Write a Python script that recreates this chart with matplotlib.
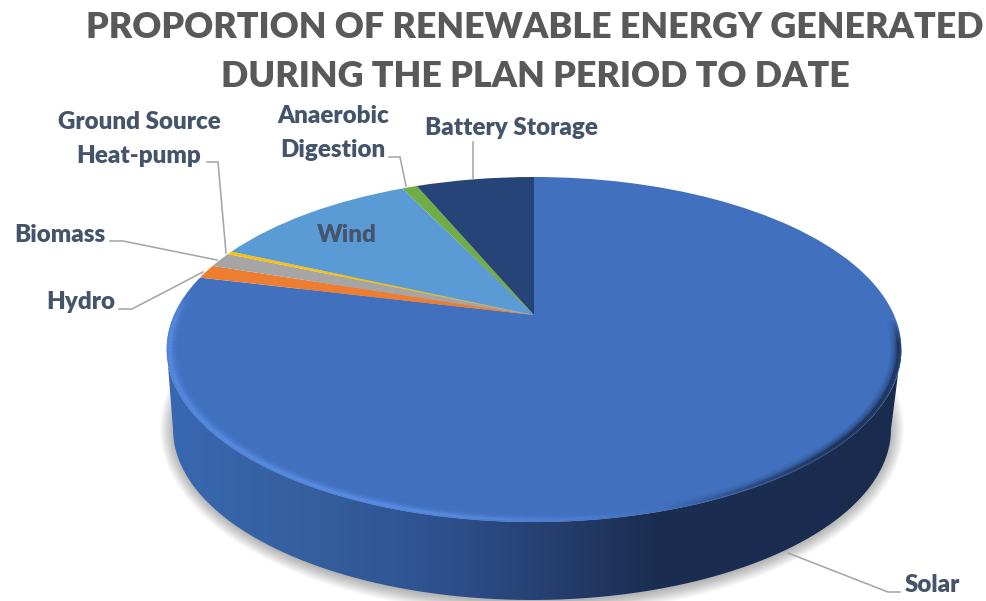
import numpy as np
import matplotlib
matplotlib.use("Agg")
import matplotlib.pyplot as plt
from matplotlib.transforms import Transform
from matplotlib.patches import Ellipse, PathPatch
from matplotlib.path import Path
from matplotlib.collections import LineCollection
from matplotlib.colors import LinearSegmentedColormap, to_rgb

categories = ["Solar", "Hydro", "Biomass", "Ground Source\nHeat-pump", "Wind", "Anaerobic\nDigestion", "Battery Storage"]
values = [78.8, 1.3, 1.4, 0.3, 11.1, 0.8, 6.3]
colors = ["#4170BF", "#ED7D31", "#A5A5A5", "#FFC000", "#5B9BD5", "#70AD47", "#264478"]
title = "PROPORTION OF RENEWABLE ENERGY GENERATED\nDURING THE PLAN PERIOD TO DATE"

W, H = 987, 601
fig = plt.figure(figsize=(W / 100, H / 100), dpi=100)
ax = fig.add_axes([0, 0, 1, 1])

CX, CY, A, C, D = 534.0, 315.0, -102.6, 0.20, 360.0


class Tilt(Transform):
    input_dims = output_dims = 2
    is_separable = False
    has_inverse = False

    def transform_non_affine(self, v):
        v = np.asarray(v, float)
        w = 1 + C * v[:, 1]
        return np.column_stack([CX + D * v[:, 0] / w, (CY + A * v[:, 1]) / w])


tilt = Tilt()
wedges, _ = ax.pie(values, colors=colors, startangle=90, counterclock=False, radius=1.0, center=(0, 0))
ax.set_aspect("auto")

# soft shadow
for grow, al in zip(np.linspace(13, 0, 13), np.full(13, 0.022)):
    ax.add_patch(Ellipse((532, 429), 2 * (359 + grow), 2 * (173 + grow), fc="k", ec="none", alpha=al, zorder=0.5))

# side wall
phi_t = np.radians(np.linspace(191, 349, 200))
phi_b = np.radians(np.linspace(180, 360, 200))
top = tilt.transform(np.column_stack([np.cos(phi_t), np.sin(phi_t)]))
bot = np.column_stack([532 + 359 * np.cos(phi_b), 429 - 171 * np.sin(phi_b)])
side_path = Path(np.vstack([top, bot[::-1], top[:1]]))
side_cmap = LinearSegmentedColormap.from_list("side", [
    (0.00, "#3868B2"), (0.18, "#35609F"), (0.35, "#2F5391"),
    (0.52, "#263F70"), (0.66, "#1B2E52"), (1.00, "#1A2C4E")])
grad = np.linspace(0, 1, 512)[None, :]
im = ax.imshow(grad, cmap=side_cmap, extent=(168, 902, 601, 300), aspect="auto", zorder=0.8)
clip = PathPatch(side_path, transform=ax.transData, fc="none", ec="none")
ax.add_patch(clip)
im.set_clip_path(clip)

# top face wedges
for w in wedges:
    w.set_transform(tilt + ax.transData)
    w.set_zorder(1)
    w.set_linewidth(0)
    w.set_clip_on(False)

# bevel on the rim of the front
ph_deg = np.linspace(170, 360, 400)
ph = np.radians(ph_deg)
light = np.array(to_rgb("#5A8FE6"))
dark = np.array(to_rgb("#1A2C4E"))
for r, strength, lw in [(0.996, 0.9, 1.8), (0.991, 1.0, 1.8), (0.986, 0.6, 1.8), (0.980, 0.3, 1.8), (0.974, 0.12, 1.8)]:
    pts = tilt.transform(np.column_stack([r * np.cos(ph), r * np.sin(ph)]))
    segs = np.stack([pts[:-1], pts[1:]], axis=1)
    d = ph_deg[:-1]
    a_l = np.clip((d - 172) / 10, 0, 1) * np.clip((287 - d) / 35, 0, 1) * strength
    a_d = np.clip((d - 287) / 30, 0, 1) * np.clip((358 - d) / 8, 0, 1) * strength * 0.85
    cols = np.zeros((len(d), 4))
    cols[:, :3] = np.where((a_l > a_d)[:, None], light, dark)
    cols[:, 3] = a_l * 0.8 + a_d
    ax.add_collection(LineCollection(segs, colors=cols, linewidths=lw, zorder=1.5, capstyle="butt"))

# leader lines
leaders = [
    [(788, 553), (888, 592), (900, 592)],
    [(119, 309), (132, 309), (203, 272)],
    [(110, 241), (123, 241), (217, 260)],
    [(207, 162), (218, 162), (226, 253)],
    [(389, 157), (400, 157), (406, 186)],
    [(473, 142), (473, 178)],
]
for pts in leaders:
    xs, ys = zip(*pts)
    ax.plot(xs, ys, color="#A6A6A6", lw=1.15, zorder=2, solid_joinstyle="miter")

# labels
label_pos = [(932, 585), (81, 302), (60, 235), (139, 139), (347, 235), (333, 133), (511, 128)]
for name, (x, y) in zip(categories, label_pos):
    ax.text(x, y, name, ha="center", va="center", family="Lato", fontweight=800,
            fontsize=17.4, color="#44546A", linespacing=1.68, zorder=3)

ax.text(535, 52, title, ha="center", va="center", family="Lato", fontweight=800,
        fontsize=25.85, color="#595959", linespacing=1.6, zorder=3)

ax.set_xlim(0, W)
ax.set_ylim(H, 0)
ax.axis("off")
fig.savefig("out.png", dpi=100)
